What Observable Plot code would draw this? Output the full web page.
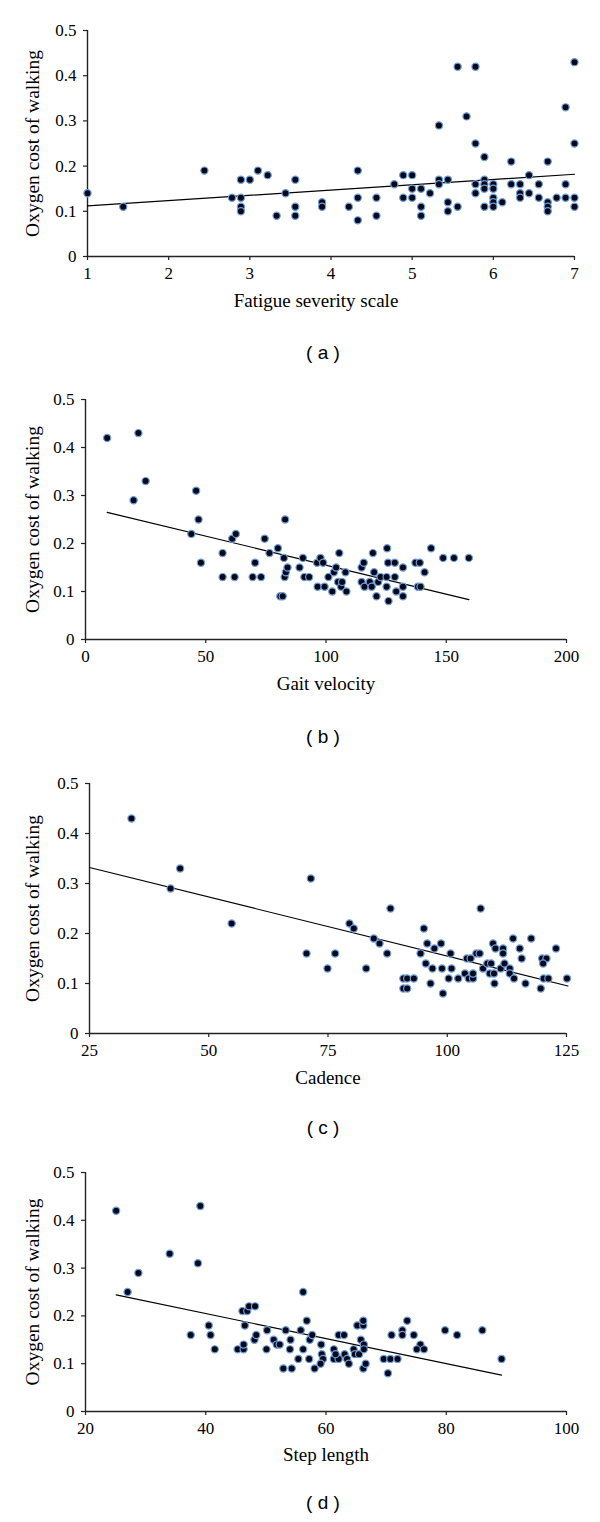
<!DOCTYPE html>
<html><head><meta charset="utf-8">
<script src="https://cdn.jsdelivr.net/npm/d3@7"></script>
<script src="https://cdn.jsdelivr.net/npm/@observablehq/plot@0.6"></script>
<style>
body{margin:0;background:#fff;}
#chart{width:600px;}
svg{display:block;}
#chart svg, #chart svg text{font-family:"Liberation Serif","Times New Roman",serif !important;}
.cap{width:554px;padding-left:46px;text-align:center;font-family:"Liberation Sans",Arial,sans-serif;font-size:19px;color:#000;white-space:pre;}
</style></head><body><div id="chart"></div>
<script>
// ---------- data ----------
const yLabel = "Oxygen cost of walking";
const yTicks = [0, 0.1, 0.2, 0.3, 0.4, 0.5];

// (a) Fatigue severity scale
const fatigueX = [1.0,1.44,2.44,2.78,2.89,2.89,2.89,2.89,3.0,3.10,3.22,3.33,3.44,3.56,3.56,3.56,3.89,3.89,4.22,4.33,4.33,4.33,4.56,4.56,4.78,4.89,4.89,5.0,5.0,5.0,5.11,5.11,5.11,5.22,5.33,5.33,5.33,5.44,5.44,5.44,5.56,5.56,5.67,5.78,5.78,5.78,5.78,5.89,5.89,5.89,5.89,5.89,6.0,6.0,6.0,6.0,6.0,6.11,6.22,6.22,6.33,6.33,6.33,6.44,6.44,6.56,6.56,6.67,6.67,6.67,6.67,6.78,6.89,6.89,6.89,7.0,7.0,7.0,7.0];
const fatigueY = [0.14,0.11,0.19,0.13,0.17,0.13,0.11,0.10,0.17,0.19,0.18,0.09,0.14,0.17,0.11,0.09,0.12,0.11,0.11,0.19,0.13,0.08,0.13,0.09,0.16,0.18,0.13,0.18,0.15,0.13,0.15,0.11,0.09,0.14,0.29,0.17,0.16,0.17,0.12,0.10,0.42,0.11,0.31,0.42,0.25,0.16,0.14,0.22,0.17,0.16,0.15,0.11,0.16,0.15,0.13,0.12,0.11,0.12,0.21,0.16,0.16,0.14,0.13,0.18,0.14,0.16,0.13,0.21,0.12,0.11,0.10,0.13,0.33,0.16,0.13,0.43,0.25,0.13,0.11];
const fatigueTrendX = [1, 7];
const fatigueTrendY = [0.112, 0.182];
const fatigueTicks = [1, 2, 3, 4, 5, 6, 7];

// (b) Gait velocity
const gaitX = [9,22,20,25,44,46,47,48,57,57,61,62.5,62,69.5,70.5,73,74.5,76.5,80,81,82,83,82.5,82.8,83.3,84,89,90.4,91,93,96.3,96.5,97.7,98.8,99.4,101,102.6,103.3,104.2,105.5,105,106.3,106.7,108.1,108.5,114.8,115.7,114.8,116,118.2,119,119.5,120,121,121.7,122.7,125.2,125.4,125.2,125.8,126,128.6,128.6,129.2,132,132,132,137.2,139,138.2,139.3,141,143.7,148.7,153.2,159.4];
const gaitY = [0.42,0.43,0.29,0.33,0.22,0.31,0.25,0.16,0.18,0.13,0.21,0.22,0.13,0.13,0.16,0.13,0.21,0.18,0.19,0.09,0.09,0.25,0.17,0.13,0.14,0.15,0.15,0.17,0.13,0.13,0.16,0.11,0.17,0.16,0.11,0.13,0.10,0.14,0.15,0.18,0.12,0.11,0.12,0.14,0.10,0.15,0.16,0.12,0.11,0.12,0.11,0.18,0.14,0.09,0.12,0.13,0.13,0.19,0.11,0.16,0.08,0.16,0.13,0.10,0.15,0.11,0.09,0.16,0.16,0.11,0.11,0.14,0.19,0.17,0.17,0.17];
const gaitTrendX = [9, 159.4];
const gaitTrendY = [0.265, 0.083];
const gaitTicks = [0, 50, 100, 150, 200];

// (c) Cadence
const cadenceX = [33.8,42,44,54.8,70.5,71.4,74.9,76.5,79.5,80.4,83,84.6,85.8,87.4,88.1,90.8,91.6,93.0,90.8,91.6,94.4,95.1,95.5,95.8,96.5,96.9,97.3,98.7,98.9,99.1,100.3,100.7,100.9,102.3,103.7,104.1,104.9,104.5,105.4,105.4,106.1,106.8,107,107.5,108.4,109.2,109.6,108.9,109.8,109.9,110.1,111.2,111.7,111.7,112,113.1,113.1,113.8,114,115.2,115.6,116.4,117.6,119.6,119.9,120.8,120.1,120.2,121.2,122.8,125.1];
const cadenceY = [0.43,0.29,0.33,0.22,0.16,0.31,0.13,0.16,0.22,0.21,0.13,0.19,0.18,0.16,0.25,0.11,0.11,0.11,0.09,0.09,0.16,0.21,0.14,0.18,0.10,0.13,0.17,0.18,0.13,0.08,0.11,0.16,0.13,0.11,0.12,0.15,0.15,0.11,0.11,0.12,0.16,0.16,0.25,0.13,0.14,0.14,0.18,0.12,0.12,0.10,0.17,0.13,0.17,0.16,0.14,0.13,0.12,0.19,0.11,0.17,0.15,0.10,0.19,0.09,0.15,0.15,0.14,0.11,0.11,0.17,0.11];
const cadenceTrendX = [25, 125.3];
const cadenceTrendY = [0.332, 0.095];
const cadenceTicks = [25, 50, 75, 100, 125];

// (d) Step length
const stepX = [25.1,27.0,28.8,34.0,38.7,39.1,37.5,40.5,40.8,41.5,45.3,46.3,46.1,46.9,47.2,48.2,46.3,46.5,48.1,48.4,50.1,50.2,51.3,51.8,52.3,52.9,54.3,53.3,54.0,54.1,55.4,55.8,56.2,56.2,56.8,57.2,57.3,57.7,58.1,59.2,59.3,59.5,59.1,61.3,61.3,62.1,61.6,62.1,63.0,63.1,63.5,63.8,64.6,64.8,65.5,65.2,66.2,66.2,65.8,66.3,66.3,66.2,66.6,69.6,70.7,71.9,70.3,70.9,72.7,72.7,73.5,74.6,75.7,75.1,76.3,79.8,81.8,86.0,89.2];
const stepY = [0.42,0.25,0.29,0.33,0.31,0.43,0.16,0.18,0.16,0.13,0.13,0.13,0.21,0.21,0.22,0.22,0.14,0.18,0.15,0.16,0.13,0.17,0.15,0.14,0.14,0.09,0.09,0.17,0.13,0.15,0.11,0.17,0.25,0.13,0.19,0.11,0.15,0.16,0.09,0.14,0.12,0.11,0.10,0.13,0.11,0.11,0.12,0.16,0.16,0.12,0.11,0.10,0.13,0.12,0.12,0.18,0.18,0.19,0.15,0.14,0.13,0.09,0.10,0.11,0.11,0.11,0.08,0.16,0.17,0.16,0.19,0.16,0.14,0.13,0.13,0.17,0.16,0.17,0.11];
const stepTrendX = [25.1, 89.2];
const stepTrendY = [0.244, 0.076];
const stepTicks = [20, 40, 60, 80, 100];

const xLabels = ["Fatigue severity scale", "Gait velocity", "Cadence", "Step length"];
const captions = ["( a )", "( b )", "( c )", "( d )"];

// ---------- layout (positions only) ----------
const layout = [
  {h: 330, mt: 30, mb: 74, ml: 87, mr: 26, cap: 46, labelDy: 50, labelDx: -15},
  {h: 337, mt: 23, mb: 74, ml: 85, mr: 34, cap: 47, labelDy: 50, labelDx: 0},
  {h: 346, mt: 23, mb: 73, ml: 89, mr: 34, cap: 44, labelDy: 50, labelDx: 0},
  {h: 334, mt: 22, mb: 73, ml: 85, mr: 34, cap: 38, labelDy: 49, labelDx: 0}
];

const series = [
  {xs: fatigueX, ys: fatigueY, tx: fatigueTrendX, ty: fatigueTrendY, ticks: fatigueTicks},
  {xs: gaitX, ys: gaitY, tx: gaitTrendX, ty: gaitTrendY, ticks: gaitTicks},
  {xs: cadenceX, ys: cadenceY, tx: cadenceTrendX, ty: cadenceTrendY, ticks: cadenceTicks},
  {xs: stepX, ys: stepY, tx: stepTrendX, ty: stepTrendY, ticks: stepTicks}
];

const serif = "Liberation Serif";
const root = document.getElementById("chart");

series.forEach((s, i) => {
  const L = layout[i];
  const pts = s.xs.map((x, j) => ({x, y: s.ys[j]}));
  const trend = s.tx.map((x, j) => ({x, y: s.ty[j]}));
  const xmin = s.ticks[0], xmax = s.ticks[s.ticks.length - 1];
  const chart = Plot.plot({
    width: 600, height: L.h,
    marginTop: L.mt, marginBottom: L.mb, marginLeft: L.ml, marginRight: L.mr,
    style: {fontFamily: serif, fontSize: "17px", color: "#000", background: "#fff", overflow: "visible"},
    x: {domain: [xmin, xmax]},
    y: {domain: [0, 0.5]},
    marks: [
      Plot.axisX({ticks: s.ticks, tickSize: 4, tickPadding: 6, label: null, tickFormat: d => String(d), stroke: "#222", strokeWidth: 1.2, fontFamily: serif, fontSize: 17}),
      Plot.axisY({ticks: yTicks, tickSize: 4, tickPadding: 7, label: null, tickFormat: d => d === 0 ? "0" : d.toFixed(1), stroke: "#222", strokeWidth: 1.2, fontFamily: serif, fontSize: 17}),
      Plot.ruleY([0], {stroke: "#222", strokeWidth: 1.4}),
      Plot.ruleX([xmin], {stroke: "#222", strokeWidth: 1.4}),
      Plot.line(trend, {x: "x", y: "y", stroke: "#000", strokeWidth: 1.2}),
      Plot.dot(pts, {x: "x", y: "y", r: 3.6, fill: "#08081a", stroke: "#6d9fdc", strokeWidth: 1.2}),
      Plot.text([yLabel], {frameAnchor: "left", textAnchor: "middle", dx: 32 - L.ml, rotate: -90, fontSize: 19.5, fontFamily: serif, fill: "#000"}),
      Plot.text([xLabels[i]], {frameAnchor: "bottom", textAnchor: "middle", dx: L.labelDx, dy: L.labelDy, fontSize: 19, fontFamily: serif, fill: "#000"})
    ]
  });
  root.appendChild(chart);
  const cap = document.createElement("div");
  cap.className = "cap";
  cap.style.height = L.cap + "px";
  cap.style.lineHeight = L.cap + "px";
  cap.textContent = captions[i];
  root.appendChild(cap);
});
</script>
</body></html>
